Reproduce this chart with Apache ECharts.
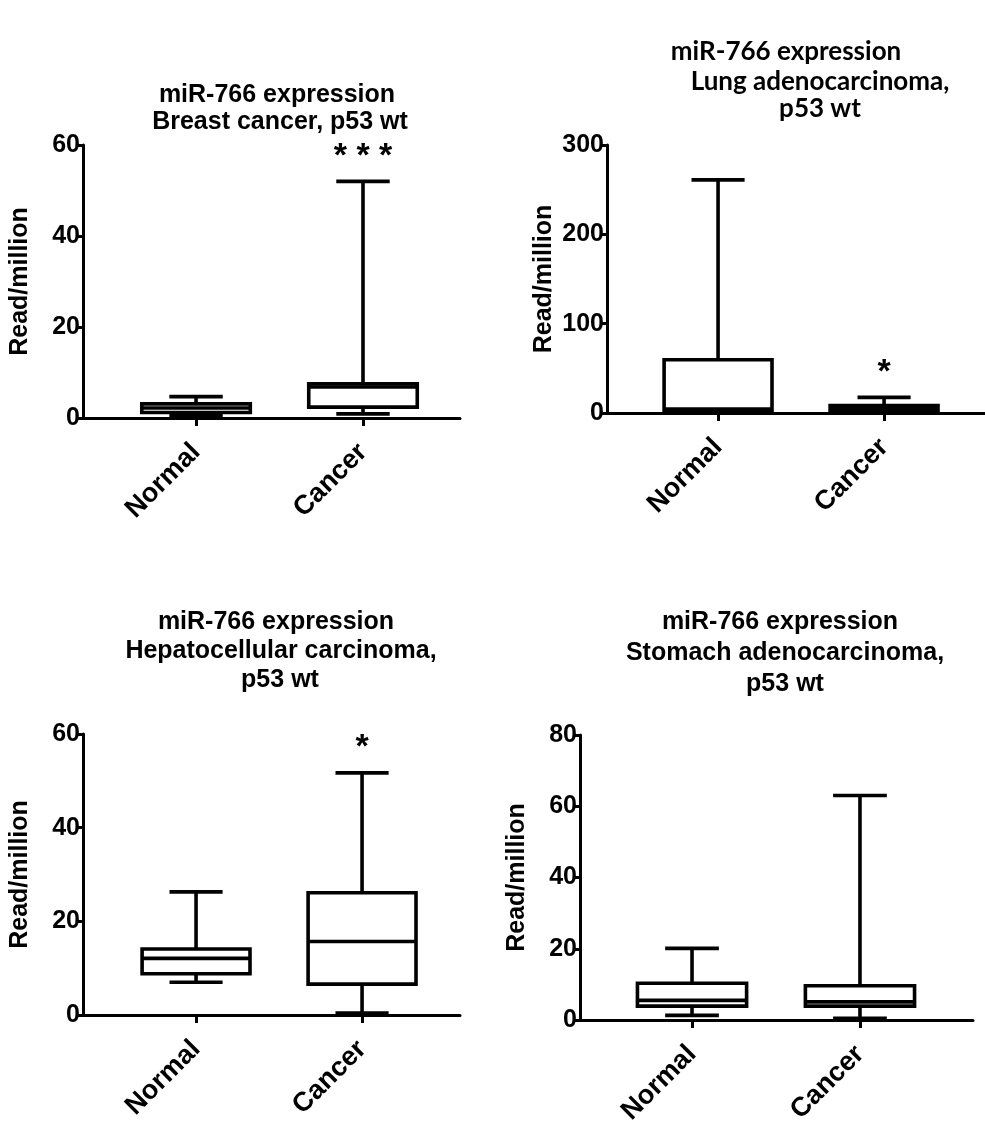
<!DOCTYPE html>
<html>
<head>
<meta charset="utf-8">
<script src="https://cdn.jsdelivr.net/npm/echarts@6/dist/echarts.min.js"></script>
<style>
html,body{margin:0;padding:0;background:#fff;}
#main{width:985px;height:1128px;}
</style>
</head>
<body>
<div id="main"></div>
<script>
// ---- data ----
const categories = ['Normal', 'Cancer'];
// [x, min, Q1, median, Q3, max]
const breastBoxes = [[1, 0.6, 1.2, 2.2, 3.1, 4.7], [2, 0.9, 2.4, 6.8, 7.5, 52]];
const lungBoxes = [[1, 0.5, 2, 4.5, 59.6, 261], [2, 1, 2.6, 5.6, 8.2, 17.5]];
const liverBoxes = [[1, 7.0, 8.8, 12.1, 14.1, 26.3], [2, 0.4, 6.6, 15.7, 26.1, 51.7]];
const stomachBoxes = [[1, 1.3, 3.9, 5.5, 10.3, 20.1], [2, 0.5, 3.9, 5.1, 9.6, 63]];
const breastSig = ['', '* * *'];
const lungSig = ['', '*'];
const liverSig = ['', '*'];
const stomachSig = ['', ''];
const breastTicks = [0, 20, 40, 60];
const lungTicks = [0, 100, 200, 300];
const liverTicks = [0, 20, 40, 60];
const stomachTicks = [0, 20, 40, 60, 80];
const titles = [
  ['miR-766 expression', 'Breast cancer, p53 wt'],
  ['miR-766 expression', 'Lung adenocarcinoma,', 'p53 wt'],
  ['miR-766 expression', 'Hepatocellular carcinoma,', 'p53 wt'],
  ['miR-766 expression', 'Stomach adenocarcinoma,', 'p53 wt']
];
const yName = 'Read/million';

// ---- layout / style ----
const FONT = 'Liberation Sans, Arial, sans-serif';
const BOX_W = 0.65, CAP_W = 0.32, LW = 3.6;
const panels = [
  {grid: {left: 83, top: 145, width: 377, height: 273}, x: [0.323, 2.581], ticks: breastTicks, boxes: breastBoxes, sig: breastSig},
  {grid: {left: 607, top: 145, width: 378, height: 268}, x: [0.331, 2.608], ticks: lungTicks, boxes: lungBoxes, sig: lungSig},
  {grid: {left: 83, top: 734, width: 377, height: 281}, x: [0.319, 2.590], ticks: liverTicks, boxes: liverBoxes, sig: liverSig},
  {grid: {left: 580, top: 735, width: 393, height: 285}, x: [0.333, 2.673], ticks: stomachTicks, boxes: stomachBoxes, sig: stomachSig}
];
const titlePos = [
  {cx: [277, 280], y: [95, 122], font: FONT, size: 25},
  {cx: [786, 820, 820], y: [52, 82, 109], font: 'Lato, Noto Sans, sans-serif', size: 26},
  {cx: [276, 281, 280], y: [622, 651, 680], font: FONT, size: 25},
  {cx: [780, 785, 785], y: [622, 653, 684], font: FONT, size: 25}
];

function makeRender(sig) {
  return function (params, api) {
    const x = api.value(0);
    const lo = api.value(1), q1 = api.value(2), med = api.value(3), q3 = api.value(4), hi = api.value(5);
    const pLo = api.coord([x, lo]), pQ1 = api.coord([x, q1]), pMed = api.coord([x, med]);
    const pQ3 = api.coord([x, q3]), pHi = api.coord([x, hi]);
    const bw = api.size([BOX_W, 0])[0];
    const cw = api.size([CAP_W, 0])[0];
    const cx = pMed[0];
    const ls = {stroke: '#000', lineWidth: LW};
    const children = [
      {type: 'line', shape: {x1: cx, y1: pQ3[1], x2: cx, y2: pHi[1]}, style: ls},
      {type: 'line', shape: {x1: cx, y1: pQ1[1], x2: cx, y2: pLo[1]}, style: ls},
      {type: 'line', shape: {x1: cx - cw / 2, y1: pHi[1], x2: cx + cw / 2, y2: pHi[1]}, style: ls},
      {type: 'line', shape: {x1: cx - cw / 2, y1: pLo[1], x2: cx + cw / 2, y2: pLo[1]}, style: ls},
      {type: 'rect', shape: {x: cx - bw / 2, y: pQ3[1], width: bw, height: pQ1[1] - pQ3[1]}, style: {fill: '#fff', stroke: '#000', lineWidth: LW}},
      {type: 'line', shape: {x1: cx - bw / 2, y1: pMed[1], x2: cx + bw / 2, y2: pMed[1]}, style: ls}
    ];
    const s = sig[params.dataIndex];
    if (s) {
      children.push({type: 'text', x: cx, y: pHi[1] - 25, style: {text: s, font: 'bold 34px ' + FONT, fill: '#000', align: 'center', verticalAlign: 'middle'}});
    }
    return {type: 'group', children: children};
  };
}

const option = {
  animation: false,
  backgroundColor: '#fff',
  grid: panels.map(p => Object.assign({containLabel: false}, p.grid)),
  xAxis: panels.map((p, i) => ({
    type: 'value', gridIndex: i, min: p.x[0], max: p.x[1],
    splitLine: {show: false},
    axisLine: {lineStyle: {color: '#000', width: 3}},
    axisTick: {customValues: [1, 2], length: 8, lineStyle: {color: '#000', width: 3}},
    axisLabel: {
      customValues: [1, 2], rotate: 45, margin: 30,
      formatter: v => categories[Math.round(v) - 1] || '',
      color: '#000', fontFamily: FONT, fontWeight: 'bold', fontSize: 27
    }
  })),
  yAxis: panels.map((p, i) => ({
    type: 'value', gridIndex: i, min: p.ticks[0], max: p.ticks[p.ticks.length - 1],
    interval: p.ticks[1] - p.ticks[0],
    name: yName, nameLocation: 'middle', nameGap: 50,
    nameTextStyle: {color: '#000', fontFamily: FONT, fontWeight: 'bold', fontSize: 25},
    splitLine: {show: false},
    axisLine: {show: true, lineStyle: {color: '#000', width: 3}},
    axisTick: {show: true, length: 7, lineStyle: {color: '#000', width: 3}},
    axisLabel: {color: '#000', fontFamily: FONT, fontWeight: 'bold', fontSize: 25, margin: 3}
  })),
  series: panels.map((p, i) => ({
    type: 'custom', xAxisIndex: i, yAxisIndex: i,
    renderItem: makeRender(p.sig),
    data: p.boxes,
    clip: false
  })),
  graphic: titles.flatMap((lines, i) => lines.map((t, j) => ({
    type: 'text', x: titlePos[i].cx[j], y: titlePos[i].y[j],
    style: {text: t, font: 'bold ' + titlePos[i].size + 'px ' + titlePos[i].font, fill: '#000', align: 'center', verticalAlign: 'middle'}
  })))
};

const chart = echarts.init(document.getElementById('main'), null, {renderer: 'canvas'});
chart.setOption(option);
</script>
</body>
</html>
